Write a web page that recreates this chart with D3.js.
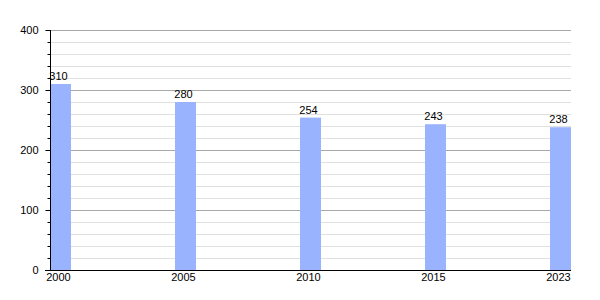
<!DOCTYPE html>
<html>
<head>
<meta charset="utf-8">
<script src="https://cdn.jsdelivr.net/npm/d3@7"></script>
<style>
  body { margin: 0; background: #fff; }
  text { font-family: "Liberation Sans", Arial, sans-serif; font-size: 11px; fill: #000; }
</style>
</head>
<body>
<script>
var width = 600, height = 300;

var years = ["2000", "2005", "2010", "2015", "2023"];
var values = [310, 280, 254, 243, 238];
var majorTicks = [0, 100, 200, 300, 400];

var svg = d3.select("body").append("svg")
    .attr("width", width)
    .attr("height", height);

var y = d3.scaleLinear().domain([0, 400]).range([270, 30]);

// each category gets a 125px slot, bar sits at the left of it
var x = d3.scaleBand().domain(years).range([50, 675]);
var barW = 21;
var plotRight = 571;

var minorTicks = d3.range(0, 401, 20);

// minor grid
svg.append("g").selectAll("line")
    .data(minorTicks.filter(d => d % 100 != 0))
    .enter().append("line")
    .attr("x1", 50).attr("x2", plotRight)
    .attr("y1", d => y(d) + 0.5).attr("y2", d => y(d) + 0.5)
    .attr("stroke", "#e0e0e0").attr("stroke-width", 1);

// major grid
svg.append("g").selectAll("line")
    .data(majorTicks.filter(d => d > 0))
    .enter().append("line")
    .attr("x1", 50).attr("x2", plotRight)
    .attr("y1", d => y(d) + 0.5).attr("y2", d => y(d) + 0.5)
    .attr("stroke", "#a8a8a8").attr("stroke-width", 1);

// bars
svg.append("g").selectAll("rect")
    .data(years)
    .enter().append("rect")
    .attr("x", d => x(d))
    .attr("y", (d, i) => y(values[i]))
    .attr("width", barW)
    .attr("height", (d, i) => y(0) - y(values[i]))
    .attr("fill", "#99b3ff");

// value labels
svg.append("g").selectAll("text")
    .data(years)
    .enter().append("text")
    .attr("x", d => x(d) + barW / 2 - 2)
    .attr("y", (d, i) => y(values[i]) - 4)
    .attr("text-anchor", "middle")
    .text((d, i) => values[i]);

// y axis
var yAxis = d3.axisLeft(y).tickValues(majorTicks).tickSize(5).tickPadding(7);
var gy = svg.append("g").attr("transform", "translate(50.5,0)").call(yAxis);
gy.select(".domain").attr("d", "M0," + y(400) + "V" + y(0));
gy.selectAll("text").style("font-size", "11px").attr("font-family", null);

// minor ticks on the axis
svg.append("g").selectAll("line")
    .data(minorTicks.filter(d => d % 100 != 0))
    .enter().append("line")
    .attr("x1", 47.5).attr("x2", 50.5)
    .attr("y1", d => y(d) + 0.5).attr("y2", d => y(d) + 0.5)
    .attr("stroke", "#000");

// x axis line
svg.append("line")
    .attr("x1", 45).attr("x2", plotRight)
    .attr("y1", y(0) + 0.5).attr("y2", y(0) + 0.5)
    .attr("stroke", "#000");

// x labels
svg.append("g").selectAll("text")
    .data(years)
    .enter().append("text")
    .attr("x", d => x(d) + barW / 2 - 2)
    .attr("y", 281)
    .attr("text-anchor", "middle")
    .text(d => d);
</script>
</body>
</html>
